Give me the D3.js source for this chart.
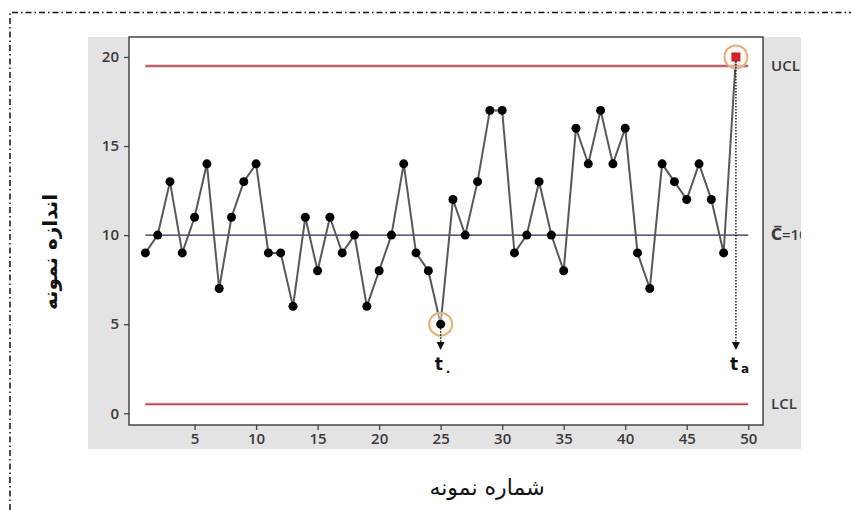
<!DOCTYPE html>
<html>
<head>
<meta charset="utf-8">
<script src="https://cdn.jsdelivr.net/npm/d3@7"></script>
<style>
  html, body { margin: 0; padding: 0; background: #fff; }
  svg { display: block; }
</style>
</head>
<body>
<svg id="chart" width="851" height="510"></svg>
<script>
// ---- data ----
const samples = d3.range(1, 50);
const counts = [9,10,13,9,11,14,7,11,13,14,9,9,6,11,8,11,9,10,6,8,10,14,9,8,5,12,10,13,17,17,9,10,13,10,8,16,14,17,14,16,9,7,14,13,12,14,12,9,20];
const xTicks = [5,10,15,20,25,30,35,40,45,50];
const yTicks = [0,5,10,15,20];
const centerLine = 10;
const ucl = 19.49;
const lcl = 0.51;
const limitLabels = ["UCL", "C\u0305=10", "LCL"];
const limitValues = [ucl, centerLine, lcl];
const markedSamples = [25, 49];
const markedLabels = [["t", "."], ["t", "a"]];
const xTitle = "شماره نمونه";
const yTitle = "اندازه نمونه";

// ---- layout ----
const svg = d3.select("#chart");
const plot = { left: 129, right: 763, top: 37, bottom: 425 };
const panel = { left: 88, right: 801, top: 37, bottom: 449 };

const x = d3.scaleLinear().domain([-0.33, 51.2]).range([plot.left, plot.right]);
const y = d3.scaleLinear().domain([-0.66, 21.12]).range([plot.bottom, plot.top]);

// dash-dot outer border
svg.append("path")
  .attr("d", `M10,510 L10,12.5 L851,12.5`)
  .attr("fill", "none")
  .attr("stroke", "#111")
  .attr("stroke-width", 1.5)
  .attr("stroke-dasharray", "6,3,1.5,3");

// gray panel
svg.append("rect")
  .attr("x", panel.left).attr("y", panel.top)
  .attr("width", panel.right - panel.left).attr("height", panel.bottom - panel.top)
  .attr("fill", "#e3e3e3");

svg.append("defs").append("clipPath").attr("id", "panelClip")
  .append("rect")
  .attr("x", panel.left).attr("y", panel.top)
  .attr("width", panel.right - panel.left).attr("height", panel.bottom - panel.top);

// white plot area
svg.append("rect")
  .attr("x", plot.left).attr("y", plot.top)
  .attr("width", plot.right - plot.left).attr("height", plot.bottom - plot.top)
  .attr("fill", "#fff");

// axes
const axisFont = "'Open Sans', 'DejaVu Sans', sans-serif";
const xAxis = svg.append("g")
  .attr("transform", `translate(0,${plot.bottom})`)
  .call(d3.axisBottom(x).tickValues(xTicks).tickSize(5).tickPadding(3).tickSizeOuter(0));
const yAxis = svg.append("g")
  .attr("transform", `translate(${plot.left},0)`)
  .call(d3.axisLeft(y).tickValues(yTicks).tickSize(5).tickPadding(5).tickSizeOuter(0));
[xAxis, yAxis].forEach(g => {
  g.select(".domain").remove();
  g.selectAll(".tick line").attr("stroke", "#444").attr("stroke-width", 1.3);
  g.selectAll(".tick text")
    .attr("fill", "#3a3a3a")
    .style("font-family", axisFont)
    .style("font-size", "15px")
    .style("font-weight", "600");
});

// control limit lines
const lineExtent = [1, 50];
svg.append("g").selectAll("line.limit")
  .data([ucl, lcl]).join("line")
  .attr("x1", x(lineExtent[0])).attr("x2", x(lineExtent[1]))
  .attr("y1", d => y(d)).attr("y2", d => y(d))
  .attr("stroke", "#f2d2d4").attr("stroke-width", 4);
svg.append("g").selectAll("line.limit2")
  .data([ucl, lcl]).join("line")
  .attr("x1", x(lineExtent[0])).attr("x2", x(lineExtent[1]))
  .attr("y1", d => y(d)).attr("y2", d => y(d))
  .attr("stroke", "#a8434c").attr("stroke-width", 1.5);
svg.append("line")
  .attr("x1", x(lineExtent[0])).attr("x2", x(lineExtent[1]))
  .attr("y1", y(centerLine)).attr("y2", y(centerLine))
  .attr("stroke", "#1e2b55").attr("stroke-width", 1.4);

// frame
svg.append("rect")
  .attr("x", plot.left).attr("y", plot.top)
  .attr("width", plot.right - plot.left).attr("height", plot.bottom - plot.top)
  .attr("fill", "none").attr("stroke", "#444").attr("stroke-width", 1.5);

// limit labels (clipped at panel edge)
svg.append("g").attr("clip-path", "url(#panelClip)")
  .selectAll("text").data(limitLabels).join("text")
  .attr("x", 771)
  .attr("y", (d, i) => y(limitValues[i]))
  .attr("dy", "0.35em")
  .attr("fill", "#3a3a3a")
  .style("font-family", axisFont)
  .style("font-size", "15px")
  .style("font-weight", "600")
  .text(d => d);

// data line
const data = samples.map((s, i) => ({ s, v: counts[i] }));
svg.append("path")
  .datum(data)
  .attr("fill", "none")
  .attr("stroke", "#585858")
  .attr("stroke-width", 2)
  .attr("d", d3.line().x(d => x(d.s)).y(d => y(d.v)));

// marked points: rings + dotted arrows
const marks = markedSamples.map((s, i) => ({ s, v: counts[s - 1], lab: markedLabels[i] }));
const arrowEnd = 3.55;
svg.append("g").selectAll("circle.ring")
  .data(marks).join("circle")
  .attr("cx", d => x(d.s)).attr("cy", d => y(d.v)).attr("r", 11.5)
  .attr("fill", "#fdf3e6").attr("fill-opacity", 0.5)
  .attr("stroke", "#e2b27c").attr("stroke-width", 2);

// points
svg.append("g").selectAll("circle.pt")
  .data(data.filter(d => d.s !== 49)).join("circle")
  .attr("cx", d => x(d.s)).attr("cy", d => y(d.v)).attr("r", 4.5)
  .attr("fill", "#000");
svg.append("g").selectAll("rect.out")
  .data(data.filter(d => d.s === 49)).join("rect")
  .attr("x", d => x(d.s) - 4.5).attr("y", d => y(d.v) - 4.5)
  .attr("width", 9).attr("height", 9)
  .attr("fill", "#d0202a");

// dotted arrows
svg.append("g").selectAll("line.arrow")
  .data(marks).join("line")
  .attr("x1", d => x(d.s)).attr("x2", d => x(d.s))
  .attr("y1", d => y(d.v) + 4).attr("y2", y(arrowEnd) - 6)
  .attr("stroke", "#111").attr("stroke-width", 1.4)
  .attr("stroke-dasharray", "1.5,1.5");
svg.append("g").selectAll("path.head")
  .data(marks).join("path")
  .attr("d", d => {
    const cx = x(d.s), ty = y(arrowEnd);
    return `M${cx - 4},${ty - 8} L${cx + 4},${ty - 8} L${cx},${ty} Z`;
  })
  .attr("fill", "#111");

// t labels
const tl = svg.append("g").selectAll("text.t")
  .data(marks).join("text")
  .attr("x", d => x(d.s) - 6)
  .attr("y", 370)
  .attr("fill", "#111")
  .style("font-family", "'DejaVu Sans', sans-serif")
  .style("font-size", "17px")
  .style("font-weight", "bold");
tl.append("tspan").text(d => d.lab[0]);
tl.append("tspan").attr("dx", 3).attr("dy", 3)
  .style("font-size", "12px").text(d => d.lab[1]);

// axis titles
svg.append("text")
  .attr("x", 487).attr("y", 495)
  .attr("text-anchor", "middle")
  .attr("fill", "#111")
  .style("font-family", "'DejaVu Sans', 'Noto Sans', sans-serif")
  .style("font-size", "22px")
  .text(xTitle);
svg.append("text")
  .attr("transform", "translate(57,252) rotate(-90)")
  .attr("text-anchor", "middle")
  .attr("fill", "#111")
  .style("font-family", "'DejaVu Sans', 'Noto Sans', sans-serif")
  .style("font-size", "20px")
  .style("font-weight", "bold")
  .text(yTitle);
</script>
</body>
</html>
